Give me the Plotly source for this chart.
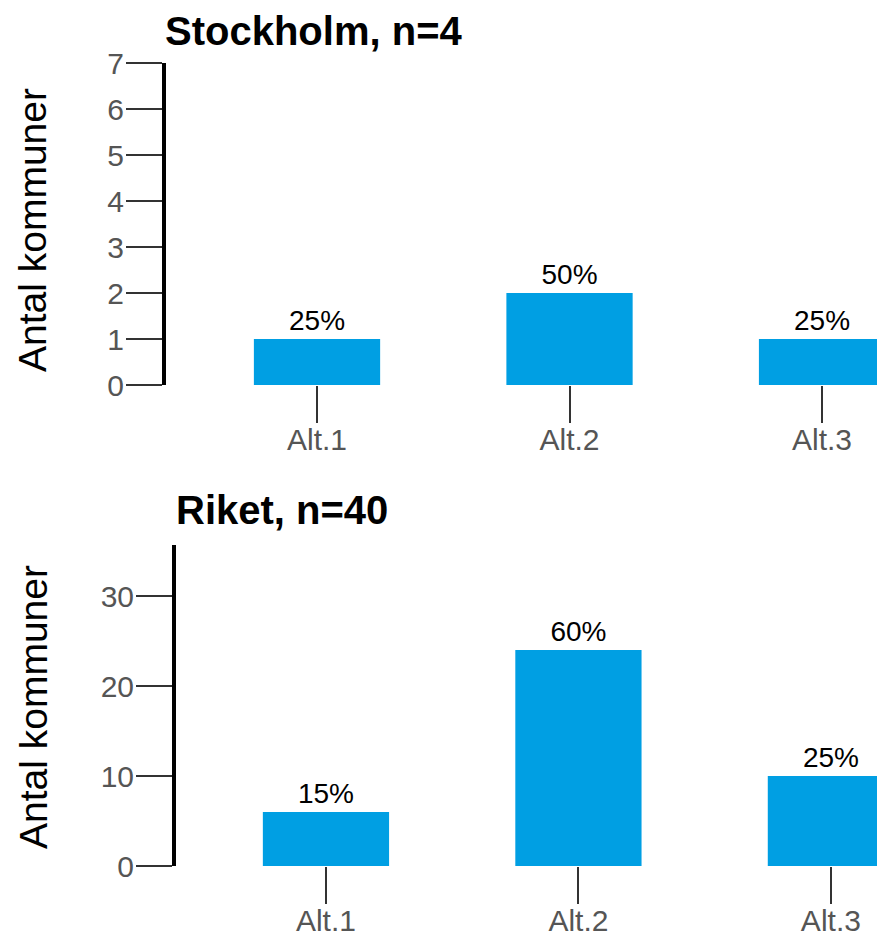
import plotly.graph_objects as go

categories = ["Alt.1", "Alt.2", "Alt.3"]
stockholm_counts = [1, 2, 1]
riket_counts = [6, 24, 10]
stockholm_n = 4
riket_n = 40
stockholm_title = "Stockholm, n=4"
riket_title = "Riket, n=40"
y_title = "Antal kommuner"
stockholm_yticks = [0, 1, 2, 3, 4, 5, 6, 7]
riket_yticks = [0, 10, 20, 30]

BAR = "#009fe3"
FONT = "Liberation Sans, Arial, sans-serif"
W, H = 885, 939
OFF = 8  # page body margin

def pct(counts, n):
    return [f"{round(100 * c / n)}%" for c in counts]

def fy(page_px):
    return 1 - (page_px - OFF) / H

def fx(page_px):
    return (page_px - OFF) / W

fig = go.Figure()
fig.add_trace(go.Bar(x=categories, y=stockholm_counts, text=pct(stockholm_counts, stockholm_n),
                     textposition="outside", cliponaxis=False, width=0.5,
                     marker=dict(color=BAR, line=dict(width=0)),
                     textfont=dict(size=28, color="black", family=FONT),
                     xaxis="x", yaxis="y", showlegend=False))
fig.add_trace(go.Bar(x=categories, y=riket_counts, text=pct(riket_counts, riket_n),
                     textposition="outside", cliponaxis=False, width=0.5,
                     marker=dict(color=BAR, line=dict(width=0)),
                     textfont=dict(size=28, color="black", family=FONT),
                     xaxis="x2", yaxis="y2", showlegend=False))

xcommon = dict(type="category", showline=False, showgrid=False, zeroline=False, automargin=False,
               ticks="outside", ticklen=37, tickwidth=2, tickcolor="#333333",
               ticklabelstandoff=-9,
               tickfont=dict(size=30, color="#555555", family=FONT))
ycommon = dict(showline=True, linewidth=4, linecolor="black", showgrid=False, zeroline=False,
               automargin=False,
               ticks="outside", ticklen=36, tickwidth=2, tickcolor="#333333",
               ticklabelstandoff=-4,
               tickfont=dict(size=30, color="#555555", family=FONT))

fig.update_layout(
    width=W, height=H,
    margin=dict(l=0, r=0, t=0, b=0, pad=0, autoexpand=False),
    plot_bgcolor="white", paper_bgcolor="white",
    font=dict(family=FONT),
    bargap=0.5,
    xaxis=dict(**xcommon, domain=[fx(166), 1.0], range=[-0.598, 2.281], anchor="y"),
    yaxis=dict(**ycommon, domain=[fy(385), fy(63)], range=[0, 7], tickvals=stockholm_yticks, anchor="x"),
    xaxis2=dict(**xcommon, domain=[fx(176), 1.0], range=[-0.594, 2.246], anchor="y2"),
    yaxis2=dict(**ycommon, domain=[fy(866), fy(545)], range=[0, 35.67], tickvals=riket_yticks, anchor="x2"),
    annotations=[
        dict(text=f"<b>{stockholm_title}</b>", x=fx(164), y=1.0, xref="paper", yref="paper",
             xanchor="left", yanchor="top", showarrow=False, borderpad=0,
             font=dict(size=40, color="black", family=FONT)),
        dict(text=f"<b>{riket_title}</b>", x=fx(174), y=fy(510), xref="paper", yref="paper",
             xanchor="left", yanchor="middle", showarrow=False,
             font=dict(size=40, color="black", family=FONT)),
        dict(text=y_title, x=fx(33), y=fy(230), xref="paper", yref="paper", textangle=-90,
             xanchor="center", yanchor="middle", showarrow=False,
             font=dict(size=39, color="black", family=FONT)),
        dict(text=y_title, x=fx(33), y=fy(707), xref="paper", yref="paper", textangle=-90,
             xanchor="center", yanchor="middle", showarrow=False,
             font=dict(size=39, color="black", family=FONT)),
    ],
)

fig.write_html("out.html")
